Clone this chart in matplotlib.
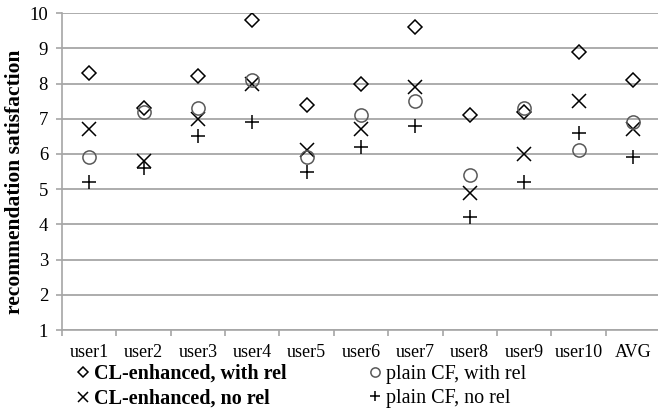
import numpy as np
import matplotlib.pyplot as plt

plt.rcParams['font.family'] = ['Liberation Serif', 'DejaVu Serif']

users = ["user1", "user2", "user3", "user4", "user5", "user6",
         "user7", "user8", "user9", "user10", "AVG"]
cl_with_rel = [8.3, 7.3, 8.2, 9.8, 7.4, 8.0, 9.6, 7.1, 7.2, 8.9, 8.1]
cl_no_rel = [6.7, 5.8, 7.0, 8.0, 6.1, 6.7, 7.9, 4.9, 6.0, 7.5, 6.7]
cf_with_rel = [5.9, 7.2, 7.3, 8.1, 5.9, 7.1, 7.5, 5.4, 7.3, 6.1, 6.9]
cf_no_rel = [5.2, 5.6, 6.5, 6.9, 5.5, 6.2, 6.8, 4.2, 5.2, 6.6, 5.9]

grid_gray = '#a6a6a6'

fig = plt.figure(figsize=(6.58, 4.17), dpi=100)
# plot area: x 62..660 px, y 13..330 px
ax = fig.add_axes([0.0942, 0.2086, 0.909, 0.760])

x = np.arange(len(users))

h1, = ax.plot(x, cl_with_rel, linestyle='none', marker='D', markersize=7.5,
              markerfacecolor='none', markeredgecolor='black', markeredgewidth=1.1)
h2, = ax.plot(x, cl_no_rel, linestyle='none', marker='x', markersize=10,
              color='black', markeredgewidth=1.1)
h3, = ax.plot(x, cf_with_rel, linestyle='none', marker='o', markersize=9.5,
              markerfacecolor='none', markeredgecolor='#595959', markeredgewidth=1.1)
h4, = ax.plot(x, cf_no_rel, linestyle='none', marker='+', markersize=9.5,
              color='black', markeredgewidth=1.1)

ax.set_xlim(-0.5, len(users) - 0.5)
ax.set_ylim(1, 10)
ax.set_yticks(range(1, 11))
ax.set_xticks(x)
ax.set_xticklabels(users, fontsize=13)
ax.set_xticks(np.arange(-0.5, len(users), 1.0), minor=True)
ax.tick_params(axis='x', which='major', length=0, pad=10)
ax.tick_params(axis='x', which='minor', length=4, color=grid_gray, width=1.2)
ax.tick_params(axis='y', labelsize=13.5, length=4, color=grid_gray, width=1.2, pad=6)

ax.yaxis.grid(True, color=grid_gray, linewidth=1.3)
ax.set_axisbelow(True)
for side in ['top', 'right']:
    ax.spines[side].set_visible(False)
for side in ['left', 'bottom']:
    ax.spines[side].set_color(grid_gray)
    ax.spines[side].set_linewidth(1.2)

ax.set_ylabel('recommendation satisfaction', fontsize=15.5, fontweight='bold')
ax.yaxis.set_label_coords(-0.062, 0.467)

leg = fig.legend([h1, h2, h3, h4],
                 ['CL-enhanced, with rel', 'CL-enhanced, no rel',
                  'plain CF, with rel', 'plain CF, no rel'],
                 ncol=2, loc='upper left', bbox_to_anchor=(0.1185, 0.128),
                 borderaxespad=0, borderpad=0,
                 frameon=False, fontsize=14.5, markerscale=0.7,
                 handlelength=0.5, handletextpad=0.3, columnspacing=4.15,
                 labelspacing=0.25)
for t in leg.get_texts()[:2]:
    t.set_fontweight('bold')

fig.savefig('out.png', dpi=100)
